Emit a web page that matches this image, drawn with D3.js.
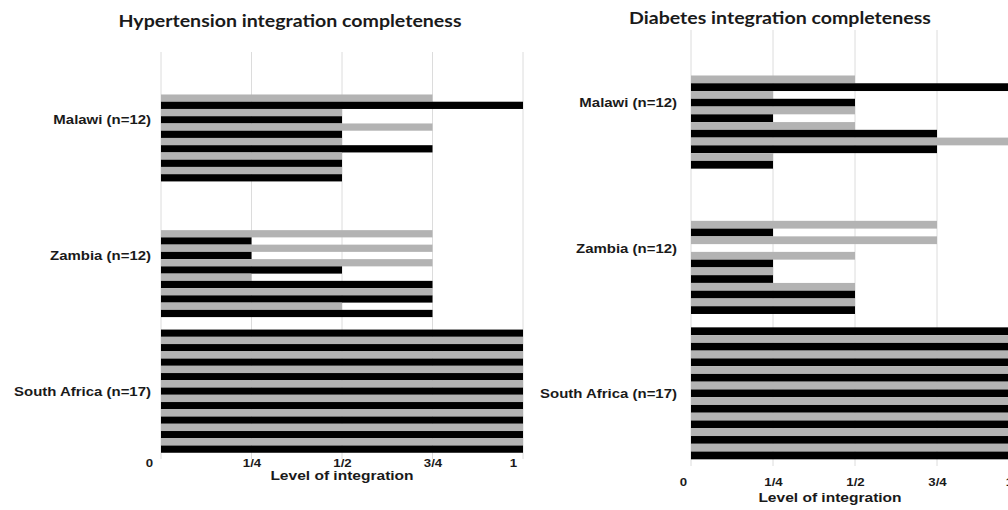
<!DOCTYPE html>
<html lang="en">
<head>
<meta charset="UTF-8">
<title>Integration completeness</title>
<script src="https://d3js.org/d3.v7.min.js"></script>
<style>
  body { margin: 0; background: #fff; }
  .lbl { font-family: "Liberation Sans", Arial, sans-serif; font-weight: bold; fill: #1a1a1a; }
  .ttl { font-family: Lato, "Open Sans", sans-serif; font-weight: bold; fill: #1a1a1a; }
</style>
</head>
<body>
<div id="chart"></div>
<script>
// categories (top to bottom) and tick labels
var categories = ["Malawi (n=12)", "Zambia (n=12)", "South Africa (n=17)"];
var tickValues = [0, 0.25, 0.5, 0.75, 1];
var tickLabels = ["0", "1/4", "1/2", "3/4", "1"];

// facility values, listed top to bottom inside each country
var htnMalawi = [0.75, 1, 0.5, 0.5, 0.75, 0.5, 0.5, 0.75, 0.5, 0.5, 0.5, 0.5];
var htnZambia = [0.75, 0.25, 0.75, 0.25, 0.75, 0.5, 0.25, 0.75, 0.75, 0.75, 0.5, 0.75];
var htnSouthAfrica = [1, 1, 1, 1, 1, 1, 1, 1, 1, 1, 1, 1, 1, 1, 1, 1, 1];

var dmMalawi = [0.5, 1, 0.25, 0.5, 0.5, 0.25, 0.5, 0.75, 1, 0.75, 0.25, 0.25];
var dmZambia = [0.75, 0.25, 0.75, 0, 0.5, 0.25, 0.25, 0.25, 0.5, 0.5, 0.5, 0.5];
var dmSouthAfrica = [1, 1, 1, 1, 1, 1, 1, 1, 1, 1, 1, 1, 1, 1, 1, 1, 1];

var width = 1008, height = 510;
var svg = d3.select("#chart").append("svg")
    .attr("width", width)
    .attr("height", height);

var panels = [
  { title: "Hypertension integration completeness", series: [htnMalawi, htnZambia, htnSouthAfrica],
    x0: 161, x1: 523, top: 52, bottom: 459, labelGap: 10, zeroShift: -12,
    titleX: 290, titleY: 27, tickY: 463, axisTitleX: 342, axisTitleY: 480 },
  { title: "Diabetes integration completeness", series: [dmMalawi, dmZambia, dmSouthAfrica],
    x0: 691, x1: 1019, top: 30, bottom: 466, labelGap: 14, zeroShift: -8,
    titleX: 780, titleY: 24, tickY: 482, axisTitleX: 830, axisTitleY: 502 }
];

var maxSlots = d3.max([htnMalawi, htnZambia, htnSouthAfrica], function(d) { return d.length; });

panels.forEach(function(p) {
  var x = d3.scaleLinear().domain([0, 1]).range([p.x0, p.x1]);
  var y = d3.scaleBand().domain(categories).range([p.top, p.bottom])
      .paddingInner(0.092).paddingOuter(0.046);
  var slot = d3.scaleBand().domain(d3.range(maxSlots)).range([0, y.bandwidth()]);

  var g = svg.append("g");

  // gridlines
  g.selectAll("line.grid")
    .data(tickValues)
    .enter().append("line")
    .attr("x1", function(d) { return x(d); })
    .attr("x2", function(d) { return x(d); })
    .attr("y1", p.top)
    .attr("y2", p.bottom)
    .attr("stroke", "#dcdcdc")
    .attr("stroke-width", 1);

  // bars
  categories.forEach(function(cat, ci) {
    var vals = p.series[ci];
    var n = vals.length;
    g.selectAll("rect.c" + ci)
      .data(vals)
      .enter().append("rect")
      .attr("x", x(0))
      .attr("y", function(d, i) { return y(cat) + slot(maxSlots - n + i); })
      .attr("width", function(d) { return x(d) - x(0); })
      .attr("height", slot.bandwidth())
      .attr("fill", function(d, i) { return (n - 1 - i) % 2 === 0 ? "#000" : "#b3b3b3"; });
  });

  // category labels
  g.selectAll("text.cat")
    .data(categories)
    .enter().append("text")
    .attr("class", "lbl")
    .attr("x", p.x0 - p.labelGap)
    .attr("y", function(d) { return y(d) + y.bandwidth() / 2; })
    .attr("dy", "0.35em")
    .attr("text-anchor", "end")
    .attr("font-size", "13px")
    .text(function(d) { return d; });

  // x axis tick labels
  var axis = d3.axisBottom(x).tickValues(tickValues)
      .tickFormat(function(d, i) { return tickLabels[i]; })
      .tickSize(0).tickPadding(0);
  var ax = g.append("g")
      .attr("transform", "translate(0," + p.tickY + ")")
      .call(axis);
  ax.select(".domain").remove();
  ax.attr("font-family", null).attr("font-size", null);
  ax.selectAll("text")
    .attr("class", "lbl")
    .attr("font-size", "11.5px")
    .attr("dy", "0.35em")
    .attr("dx", function(d, i) { return i === 0 ? p.zeroShift : (i === tickValues.length - 1 ? -10 : 0); });

  // axis title
  g.append("text")
    .attr("class", "lbl")
    .attr("x", p.axisTitleX)
    .attr("y", p.axisTitleY)
    .attr("text-anchor", "middle")
    .attr("font-size", "13.5px")
    .text("Level of integration");

  // panel title
  g.append("text")
    .attr("class", "ttl")
    .attr("x", p.titleX)
    .attr("y", p.titleY)
    .attr("text-anchor", "middle")
    .attr("font-size", "17px")
    .text(p.title);
});

// the source figure is a little wider than tall, so stretch text horizontally
svg.selectAll("text").each(function() {
  var len = this.getComputedTextLength();
  d3.select(this)
    .attr("textLength", len * 1.15)
    .attr("lengthAdjust", "spacingAndGlyphs");
});
</script>
</body>
</html>
